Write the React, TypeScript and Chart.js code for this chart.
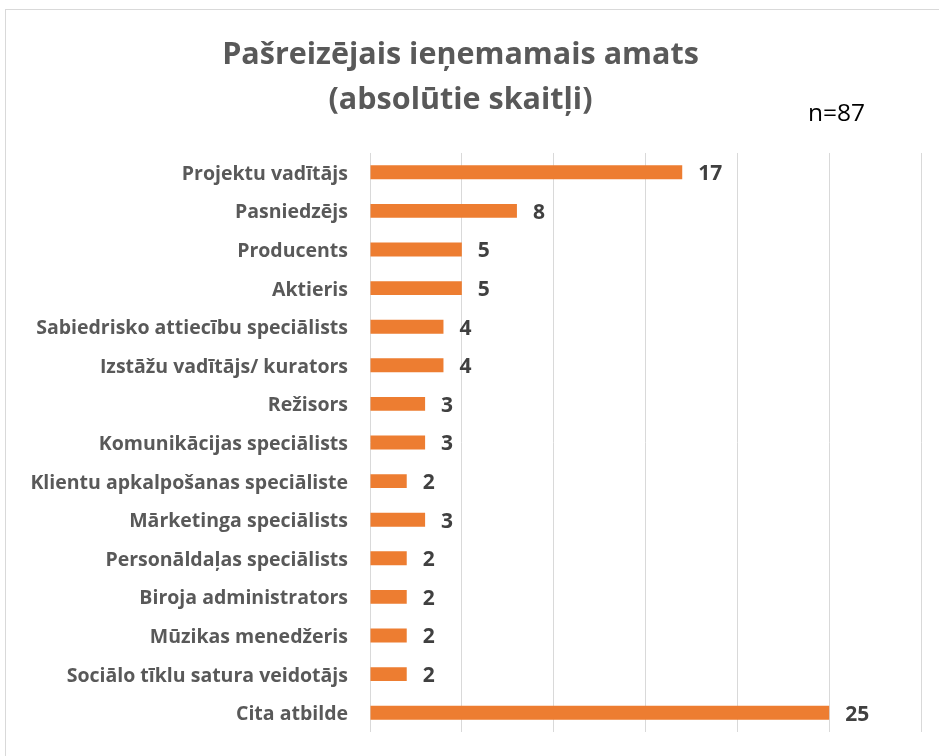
import React, { useEffect, useRef } from "react";
import { Chart, registerables } from "chart.js";

Chart.register(...registerables);

const categories = [
  "Projektu vadītājs",
  "Pasniedzējs",
  "Producents",
  "Aktieris",
  "Sabiedrisko attiecību speciālists",
  "Izstāžu vadītājs/ kurators",
  "Režisors",
  "Komunikācijas speciālists",
  "Klientu apkalpošanas speciāliste",
  "Mārketinga speciālists",
  "Personāldaļas speciālists",
  "Biroja administrators",
  "Mūzikas menedžeris",
  "Sociālo tīklu satura veidotājs",
  "Cita atbilde",
];
const values = [17, 8, 5, 5, 4, 4, 3, 3, 2, 3, 2, 2, 2, 2, 25];
const titleLines = ["Pašreizējais ieņemamais amats", "(absolūtie skaitļi)"];
const sampleNote = "n=87";
const xMin = 0;
const xMax = 30;
const xStep = 5;

const FONT = "'Open Sans', Lato, sans-serif";

const valueLabels = {
  id: "valueLabels",
  afterDatasetsDraw(chart: any) {
    const ctx = chart.ctx;
    const meta = chart.getDatasetMeta(0);
    const data = chart.data.datasets[0].data;
    ctx.save();
    ctx.font = `bold 21px ${FONT}`;
    ctx.fillStyle = "#404040";
    ctx.textAlign = "left";
    ctx.textBaseline = "middle";
    meta.data.forEach((bar: any, i: number) => {
      ctx.fillText(String(data[i]), bar.x + 16, bar.y + 2);
    });
    ctx.restore();
  },
};

const noteLabel = {
  id: "noteLabel",
  afterDraw(chart: any) {
    const ctx = chart.ctx;
    ctx.save();
    ctx.font = `24.5px ${FONT}`;
    ctx.fillStyle = "#000000";
    ctx.textAlign = "left";
    ctx.textBaseline = "middle";
    ctx.fillText(sampleNote, 808, 114);
    ctx.restore();
  },
};

export default function App() {
  const ref = useRef<HTMLCanvasElement | null>(null);
  useEffect(() => {
    if (!ref.current) return;
    const chart = new Chart(ref.current, {
      type: "bar",
      data: {
        labels: categories,
        datasets: [
          {
            data: values,
            backgroundColor: "#ED7D31",
            borderWidth: 0,
            barPercentage: 0.36,
            categoryPercentage: 1,
          },
        ],
      },
      options: {
        indexAxis: "y",
        responsive: false,
        animation: false,
        devicePixelRatio: 1,
        layout: { padding: { left: 0, right: 18, top: 0, bottom: 24 } },
        plugins: {
          legend: { display: false },
          tooltip: { enabled: false },
          title: {
            display: true,
            text: titleLines,
            color: "#595959",
            font: { family: FONT, size: 30.5, weight: "bold", lineHeight: 1.475 },
            padding: { top: 33, bottom: 30 },
          },
        },
        scales: {
          x: {
            min: xMin,
            max: xMax,
            ticks: { stepSize: xStep, display: false },
            grid: { color: "#d9d9d9", lineWidth: 1, drawTicks: false },
            border: { display: false },
            afterFit(scale: any) {
              scale.height = 0;
              scale.paddingLeft = 0;
              scale.paddingRight = 0;
            },
          },
          y: {
            grid: { display: false, drawTicks: false },
            border: { display: false },
            ticks: {
              color: "#595959",
              font: { family: FONT, size: 19.5, weight: "bold" },
              padding: 22,
              labelOffset: 2,
              autoSkip: false,
            },
            afterFit(scale: any) {
              scale.width = 370;
              scale.paddingTop = 0;
              scale.paddingBottom = 0;
            },
          },
        },
      },
      plugins: [valueLabels, noteLabel],
    });
    return () => chart.destroy();
  }, []);

  return (
    <div
      style={{
        position: "fixed",
        left: 0,
        top: 0,
        width: 939,
        height: 756,
        overflow: "hidden",
        background: "#ffffff",
      }}
    >
      <div
        style={{
          position: "absolute",
          left: 5,
          top: 9,
          width: 960,
          height: 800,
          border: "1px solid #d9d9d9",
        }}
      />
      <canvas
        ref={ref}
        width={939}
        height={756}
        style={{ position: "absolute", left: 0, top: 0 }}
      />
    </div>
  );
}
